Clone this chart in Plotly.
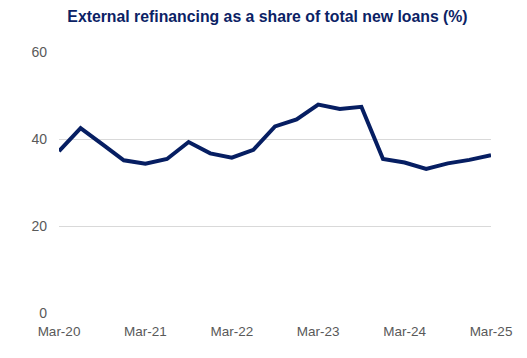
import plotly.graph_objects as go

quarters = ["Mar-20", "Jun-20", "Sep-20", "Dec-20",
            "Mar-21", "Jun-21", "Sep-21", "Dec-21",
            "Mar-22", "Jun-22", "Sep-22", "Dec-22",
            "Mar-23", "Jun-23", "Sep-23", "Dec-23",
            "Mar-24", "Jun-24", "Sep-24", "Dec-24",
            "Mar-25"]
share = [37.2, 42.5, 38.8, 35.1,
         34.3, 35.4, 39.3, 36.7,
         35.7, 37.5, 42.9, 44.5,
         47.9, 46.9, 47.4, 35.4,
         34.6, 33.1, 34.4, 35.2,
         36.3]
tick_labels = ["Mar-20", "Mar-21", "Mar-22", "Mar-23", "Mar-24", "Mar-25"]

x_idx = list(range(len(quarters)))
tick_pos = [i for i, q in enumerate(quarters) if q in tick_labels]

fig = go.Figure()
fig.add_trace(go.Scatter(
    x=x_idx, y=share, mode="lines",
    line=dict(color="#061e62", width=4),
    hoverinfo="skip", cliponaxis=False,
))

fig.update_layout(
    width=519, height=350,
    margin=dict(l=51, r=36, t=44, b=45),
    paper_bgcolor="white", plot_bgcolor="white",
    showlegend=False,
    title=dict(
        text="<b>External refinancing as a share of total new loans (%)</b>",
        x=0.5, xanchor="center", y=0.977, yanchor="middle",
        font=dict(family="Liberation Sans, Arial", size=15.8, color="#0b2265"),
    ),
    font=dict(family="Liberation Sans, Arial", size=13.5, color="#595959"),
)
fig.update_xaxes(
    range=[0, len(quarters) - 1],
    tickvals=tick_pos, ticktext=tick_labels,
    showgrid=False, zeroline=False, showline=False,
    ticks="", ticklabelstandoff=8,
    tickfont=dict(size=13.5, color="#595959"),
)
fig.update_yaxes(
    range=[0, 60], tickvals=[0, 20, 40, 60],
    showgrid=True, gridcolor="#d9d9d9", gridwidth=1,
    zeroline=False, showline=False, ticks="",
    ticklabelstandoff=11,
    tickfont=dict(size=14, color="#595959"),
)

fig.write_html("out.html")
